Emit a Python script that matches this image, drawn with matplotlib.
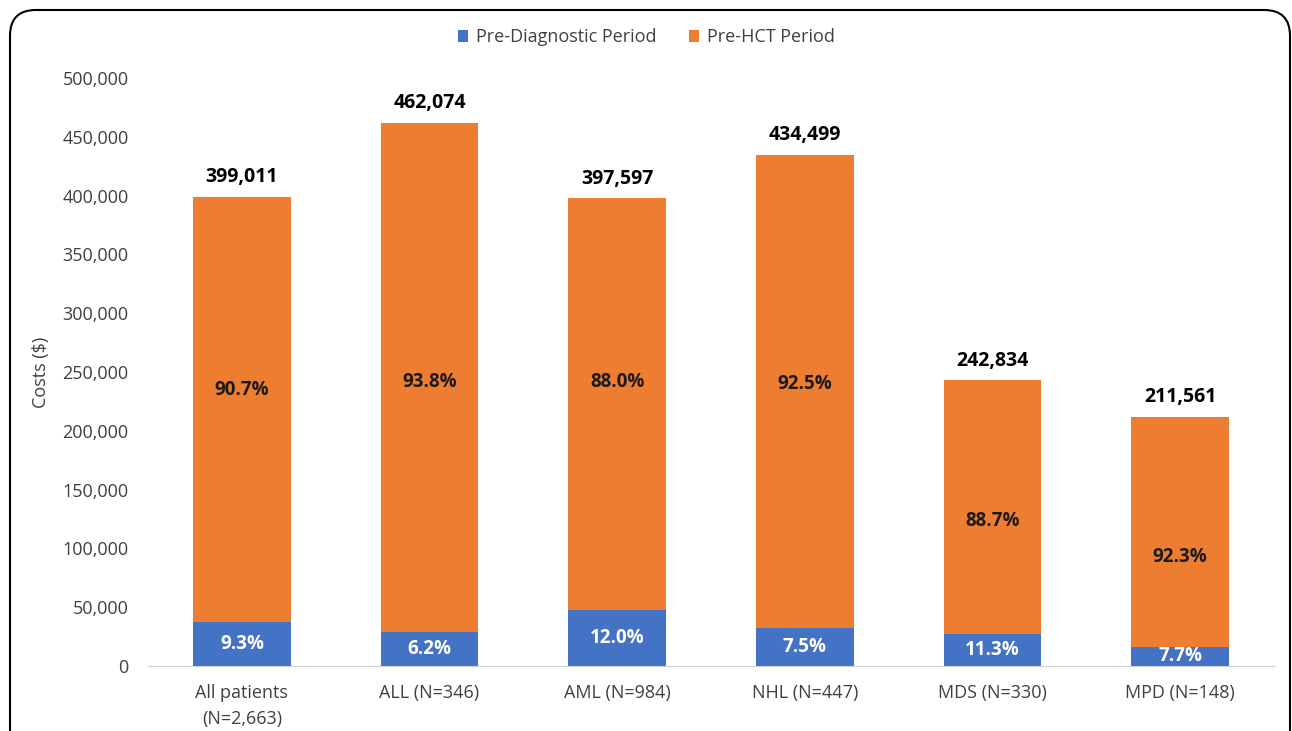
#Stacked bar chart of pre-transplant costs by diagnosis
import matplotlib
matplotlib.use('Agg')
import matplotlib.pyplot as plt
from matplotlib.patches import FancyBboxPatch
from matplotlib.ticker import FuncFormatter

groups = ['All patients\n(N=2,663)', 'ALL (N=346)', 'AML (N=984)', 'NHL (N=447)', 'MDS (N=330)', 'MPD (N=148)']
pre_diag = [37100, 28600, 47700, 32600, 27400, 16300]  # $, blue segment
pre_hct = [361900, 433500, 349900, 401900, 215400, 195300]  # $, orange segment
totals = ['399,011', '462,074', '397,597', '434,499', '242,834', '211,561']
pct_diag = ['9.3%', '6.2%', '12.0%', '7.5%', '11.3%', '7.7%']
pct_hct = ['90.7%', '93.8%', '88.0%', '92.5%', '88.7%', '92.3%']
pct_hct_y = [234700, 241500, 241500, 239800, 123300, 92700]  # where the orange labels sit

blue = '#4472C4'
orange = '#ED7D31'
plt.rcParams['font.family'] = ['Open Sans', 'DejaVu Sans']

fig = plt.figure(figsize=(12.92, 7.31), dpi=100)
ax = fig.add_axes([0.1146, 0.0889, 0.8714, 0.8044])
x = range(len(groups))
ax.bar(x, pre_diag, width=0.52, color=blue, label='Pre-Diagnostic Period')
ax.bar(x, pre_hct, width=0.52, bottom=pre_diag, color=orange, label='Pre-HCT Period')

for i in x:
  top = pre_diag[i] + pre_hct[i]
  ax.annotate(totals[i], (i, top), xytext=(0, 7), textcoords='offset points',
              ha='center', va='bottom', fontsize=14, fontweight='bold', color='black')
  ax.text(i, pre_diag[i]/2, pct_diag[i], ha='center', va='center', fontsize=13.5,
          fontweight='bold', color='white')
  ax.text(i, pct_hct_y[i], pct_hct[i], ha='center', va='center', fontsize=13.5,
          fontweight='bold', color='#1a1a1a')

ax.set_xlim(-0.5, len(groups)-0.5)
ax.set_ylim(0, 500000)
ax.set_yticks(range(0, 500001, 50000))
ax.yaxis.set_major_formatter(FuncFormatter(lambda v, p: f'{int(v):,}'))
ax.set_xticks(list(x))
ax.set_xticklabels(groups, linespacing=1.55)
ax.tick_params(axis='both', length=0, labelsize=13, colors='#404040')
ax.tick_params(axis='y', pad=14)
ax.tick_params(axis='x', pad=13)
for s in ['top', 'right', 'left']:
  ax.spines[s].set_visible(False)
ax.spines['bottom'].set_color('#d0d0d0')
ax.set_ylabel('Costs ($)', fontsize=13, color='#404040', labelpad=9)

fig.legend(loc='center', bbox_to_anchor=(0.5, 0.949), ncol=2, frameon=False,
           fontsize=13, handlelength=0.6, handleheight=0.6, columnspacing=1.8,
           handletextpad=0.4, labelcolor='#404040')

frame = FancyBboxPatch((10/1292, -0.05), 1280/1292, 1.05-10/731, transform=fig.transFigure,
                       boxstyle='round,pad=0,rounding_size=0.02', fill=False,
                       edgecolor='black', linewidth=1.5, mutation_aspect=1292/731)
fig.patches.append(frame)

fig.savefig('out.png', dpi=100)
